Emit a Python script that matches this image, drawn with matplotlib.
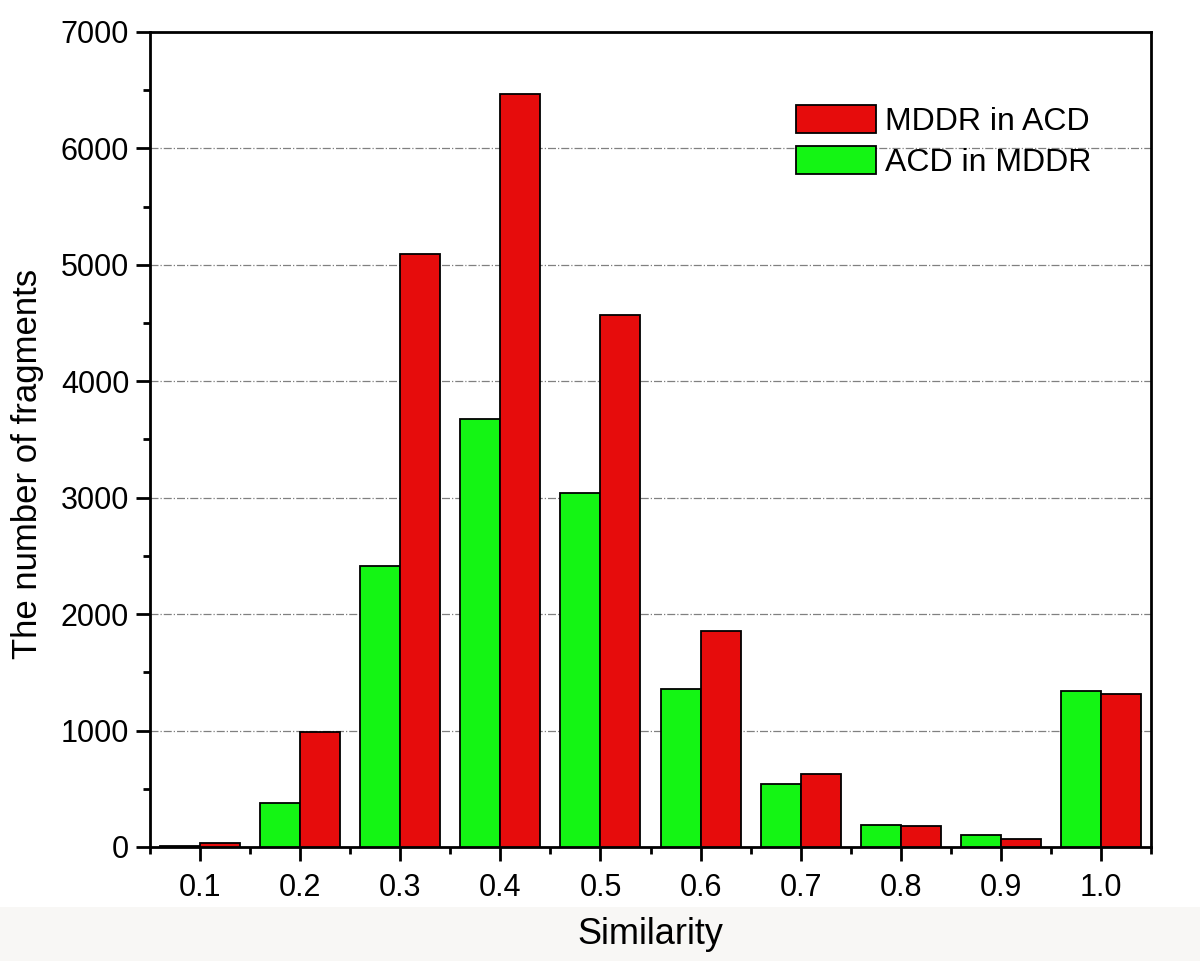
import numpy as np
import matplotlib
matplotlib.use('Agg')
import matplotlib.pyplot as plt
from matplotlib.patches import Rectangle
from matplotlib.ticker import MultipleLocator

plt.rcParams['font.family'] = ['Liberation Sans', 'DejaVu Sans']

# data
similarity = [0.1, 0.2, 0.3, 0.4, 0.5, 0.6, 0.7, 0.8, 0.9, 1.0]
tick_labels = ['0.1', '0.2', '0.3', '0.4', '0.5', '0.6', '0.7', '0.8', '0.9', '1.0']
acd_in_mddr = [10, 380, 2410, 3680, 3040, 1355, 540, 185, 100, 1343]
mddr_in_acd = [35, 990, 5090, 6470, 4570, 1855, 630, 178, 66, 1310]

red = '#e60c0c'
green = '#14f514'

fig = plt.figure(figsize=(12, 9.61), dpi=100)
# light band under the axes, as in the scan
fig.patches.append(Rectangle((0, 0), 1, 54/961, transform=fig.transFigure,
                             facecolor='#f8f7f5', edgecolor='none', zorder=-5))
ax = fig.add_axes([150/1200, 114/961, 1001/1200, 815/961])

x = np.array(similarity)
w = 0.04
ax.bar(x, acd_in_mddr, width=-w, align='edge', color=green, edgecolor='black',
       linewidth=1.3, zorder=3, label='ACD in MDDR')
ax.bar(x, mddr_in_acd, width=w, align='edge', color=red, edgecolor='black',
       linewidth=1.3, zorder=3, label='MDDR in ACD')

ax.set_xlim(0.05, 1.05)
ax.set_ylim(0, 7000)
ax.set_xticks(similarity)
ax.set_xticklabels(tick_labels)
ax.set_xticks(np.arange(0.05, 1.06, 0.1), minor=True)
ax.yaxis.set_major_locator(MultipleLocator(1000))
ax.yaxis.set_minor_locator(MultipleLocator(500))

for y in range(1000, 7000, 1000):
    ax.axhline(y, color='#808080', linestyle='-.', linewidth=0.9, zorder=1)

for s in ax.spines.values():
    s.set_linewidth(2)
ax.tick_params(axis='both', which='major', direction='out', length=10, width=2,
               labelsize=22, top=False, right=False)
ax.tick_params(axis='both', which='minor', direction='out', length=5, width=2,
               top=False, right=False)
ax.tick_params(axis='y', which='major', pad=5)
ax.tick_params(axis='x', which='major', pad=9)

ax.set_xlabel('Similarity', fontsize=26, labelpad=10)
ax.set_ylabel('The number of fragments', fontsize=25)
ax.yaxis.set_label_coords(-0.106, 0.47)

h, l = ax.get_legend_handles_labels()
ax.legend([h[1], h[0]], [l[1], l[0]], loc='upper left',
          bbox_to_anchor=((796-150)/1001, (847-105)/815), frameon=False,
          fontsize=23, handlelength=2.5, handleheight=0.95, handletextpad=0.3,
          labelspacing=0.3, borderpad=0, borderaxespad=0)

fig.savefig('out.png', dpi=100)
